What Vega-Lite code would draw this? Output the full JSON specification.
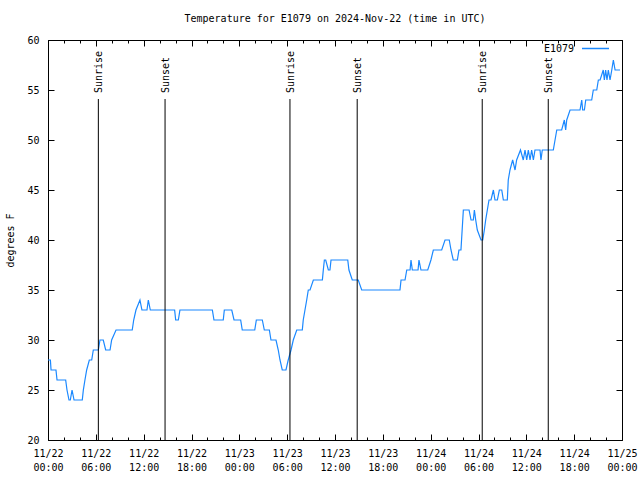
{
  "$schema": "https://vega.github.io/schema/vega-lite/v6.json",
  "width": 574,
  "height": 400,
  "autosize": {"type": "none"},
  "padding": {"left": 48, "top": 40, "right": 18, "bottom": 40},
  "title": {"text": "Temperature for E1079 on 2024-Nov-22 (time in UTC)", "offset": 10},
  "datasets": {
    "temps": [
      {"t": "2024-11-22T00:00Z", "v": 28}, {"t": "2024-11-22T00:18Z", "v": 28}, {"t": "2024-11-22T00:23Z", "v": 27},
      {"t": "2024-11-22T01:00Z", "v": 27}, {"t": "2024-11-22T01:08Z", "v": 26}, {"t": "2024-11-22T02:13Z", "v": 26},
      {"t": "2024-11-22T02:23Z", "v": 25}, {"t": "2024-11-22T02:38Z", "v": 24}, {"t": "2024-11-22T02:48Z", "v": 24},
      {"t": "2024-11-22T03:01Z", "v": 25}, {"t": "2024-11-22T03:16Z", "v": 24}, {"t": "2024-11-22T04:18Z", "v": 24},
      {"t": "2024-11-22T04:26Z", "v": 25}, {"t": "2024-11-22T04:38Z", "v": 26}, {"t": "2024-11-22T04:51Z", "v": 27},
      {"t": "2024-11-22T05:11Z", "v": 28}, {"t": "2024-11-22T05:29Z", "v": 28}, {"t": "2024-11-22T05:41Z", "v": 29},
      {"t": "2024-11-22T06:19Z", "v": 29}, {"t": "2024-11-22T06:31Z", "v": 30}, {"t": "2024-11-22T06:56Z", "v": 30},
      {"t": "2024-11-22T07:14Z", "v": 29}, {"t": "2024-11-22T07:47Z", "v": 29}, {"t": "2024-11-22T07:59Z", "v": 30},
      {"t": "2024-11-22T08:32Z", "v": 31}, {"t": "2024-11-22T10:34Z", "v": 31}, {"t": "2024-11-22T10:45Z", "v": 32},
      {"t": "2024-11-22T11:02Z", "v": 33}, {"t": "2024-11-22T11:32Z", "v": 34}, {"t": "2024-11-22T11:47Z", "v": 33},
      {"t": "2024-11-22T12:25Z", "v": 33}, {"t": "2024-11-22T12:35Z", "v": 34}, {"t": "2024-11-22T12:50Z", "v": 33},
      {"t": "2024-11-22T15:53Z", "v": 33}, {"t": "2024-11-22T16:01Z", "v": 32}, {"t": "2024-11-22T16:21Z", "v": 32},
      {"t": "2024-11-22T16:33Z", "v": 33}, {"t": "2024-11-22T20:37Z", "v": 33}, {"t": "2024-11-22T20:49Z", "v": 32},
      {"t": "2024-11-22T21:59Z", "v": 32}, {"t": "2024-11-22T22:07Z", "v": 33}, {"t": "2024-11-22T23:03Z", "v": 33},
      {"t": "2024-11-22T23:20Z", "v": 32}, {"t": "2024-11-23T00:10Z", "v": 32}, {"t": "2024-11-23T00:22Z", "v": 31},
      {"t": "2024-11-23T01:56Z", "v": 31}, {"t": "2024-11-23T02:08Z", "v": 32}, {"t": "2024-11-23T02:53Z", "v": 32},
      {"t": "2024-11-23T03:08Z", "v": 31}, {"t": "2024-11-23T03:46Z", "v": 31}, {"t": "2024-11-23T03:58Z", "v": 30},
      {"t": "2024-11-23T04:36Z", "v": 30}, {"t": "2024-11-23T04:53Z", "v": 29}, {"t": "2024-11-23T05:06Z", "v": 28},
      {"t": "2024-11-23T05:23Z", "v": 27}, {"t": "2024-11-23T05:51Z", "v": 27}, {"t": "2024-11-23T06:08Z", "v": 28},
      {"t": "2024-11-23T06:29Z", "v": 29}, {"t": "2024-11-23T06:46Z", "v": 30}, {"t": "2024-11-23T07:12Z", "v": 31},
      {"t": "2024-11-23T07:54Z", "v": 31}, {"t": "2024-11-23T08:01Z", "v": 32}, {"t": "2024-11-23T08:14Z", "v": 33},
      {"t": "2024-11-23T08:27Z", "v": 34}, {"t": "2024-11-23T08:39Z", "v": 35}, {"t": "2024-11-23T08:52Z", "v": 35},
      {"t": "2024-11-23T09:17Z", "v": 36}, {"t": "2024-11-23T10:25Z", "v": 36}, {"t": "2024-11-23T10:32Z", "v": 37},
      {"t": "2024-11-23T10:40Z", "v": 38}, {"t": "2024-11-23T10:50Z", "v": 38}, {"t": "2024-11-23T11:10Z", "v": 37},
      {"t": "2024-11-23T11:22Z", "v": 37}, {"t": "2024-11-23T11:30Z", "v": 38}, {"t": "2024-11-23T13:36Z", "v": 38},
      {"t": "2024-11-23T13:45Z", "v": 37}, {"t": "2024-11-23T14:10Z", "v": 36}, {"t": "2024-11-23T14:55Z", "v": 36},
      {"t": "2024-11-23T15:21Z", "v": 35}, {"t": "2024-11-23T20:09Z", "v": 35}, {"t": "2024-11-23T20:17Z", "v": 36},
      {"t": "2024-11-23T20:47Z", "v": 36}, {"t": "2024-11-23T21:00Z", "v": 37}, {"t": "2024-11-23T21:25Z", "v": 37},
      {"t": "2024-11-23T21:32Z", "v": 38}, {"t": "2024-11-23T21:42Z", "v": 37}, {"t": "2024-11-23T22:25Z", "v": 37},
      {"t": "2024-11-23T22:32Z", "v": 38}, {"t": "2024-11-23T22:47Z", "v": 37}, {"t": "2024-11-23T23:38Z", "v": 37},
      {"t": "2024-11-24T00:02Z", "v": 38}, {"t": "2024-11-24T00:20Z", "v": 39}, {"t": "2024-11-24T01:23Z", "v": 39},
      {"t": "2024-11-24T01:48Z", "v": 40}, {"t": "2024-11-24T02:20Z", "v": 40}, {"t": "2024-11-24T02:33Z", "v": 39},
      {"t": "2024-11-24T02:50Z", "v": 38}, {"t": "2024-11-24T03:21Z", "v": 38}, {"t": "2024-11-24T03:33Z", "v": 39},
      {"t": "2024-11-24T03:48Z", "v": 39}, {"t": "2024-11-24T04:06Z", "v": 43}, {"t": "2024-11-24T04:49Z", "v": 43},
      {"t": "2024-11-24T05:04Z", "v": 42}, {"t": "2024-11-24T05:21Z", "v": 42}, {"t": "2024-11-24T05:29Z", "v": 43},
      {"t": "2024-11-24T05:39Z", "v": 42}, {"t": "2024-11-24T05:51Z", "v": 41}, {"t": "2024-11-24T06:19Z", "v": 40},
      {"t": "2024-11-24T06:32Z", "v": 40}, {"t": "2024-11-24T06:44Z", "v": 41}, {"t": "2024-11-24T06:54Z", "v": 42},
      {"t": "2024-11-24T07:19Z", "v": 44}, {"t": "2024-11-24T07:34Z", "v": 44}, {"t": "2024-11-24T07:52Z", "v": 45},
      {"t": "2024-11-24T08:04Z", "v": 44}, {"t": "2024-11-24T08:22Z", "v": 44}, {"t": "2024-11-24T08:37Z", "v": 45},
      {"t": "2024-11-24T08:55Z", "v": 45}, {"t": "2024-11-24T09:07Z", "v": 44}, {"t": "2024-11-24T09:37Z", "v": 44},
      {"t": "2024-11-24T09:44Z", "v": 46}, {"t": "2024-11-24T09:57Z", "v": 47}, {"t": "2024-11-24T10:17Z", "v": 48},
      {"t": "2024-11-24T10:35Z", "v": 47}, {"t": "2024-11-24T10:47Z", "v": 48}, {"t": "2024-11-24T11:16Z", "v": 49},
      {"t": "2024-11-24T11:37Z", "v": 48}, {"t": "2024-11-24T11:50Z", "v": 49}, {"t": "2024-11-24T12:03Z", "v": 48},
      {"t": "2024-11-24T12:15Z", "v": 49}, {"t": "2024-11-24T12:28Z", "v": 48}, {"t": "2024-11-24T12:40Z", "v": 49},
      {"t": "2024-11-24T12:53Z", "v": 48}, {"t": "2024-11-24T13:05Z", "v": 49}, {"t": "2024-11-24T13:43Z", "v": 49},
      {"t": "2024-11-24T13:50Z", "v": 48}, {"t": "2024-11-24T14:00Z", "v": 49}, {"t": "2024-11-24T15:23Z", "v": 49},
      {"t": "2024-11-24T15:36Z", "v": 50}, {"t": "2024-11-24T15:49Z", "v": 51}, {"t": "2024-11-24T16:26Z", "v": 51},
      {"t": "2024-11-24T16:46Z", "v": 52}, {"t": "2024-11-24T16:56Z", "v": 51}, {"t": "2024-11-24T17:04Z", "v": 52},
      {"t": "2024-11-24T17:29Z", "v": 53}, {"t": "2024-11-24T18:44Z", "v": 53}, {"t": "2024-11-24T18:57Z", "v": 54},
      {"t": "2024-11-24T19:04Z", "v": 53}, {"t": "2024-11-24T19:17Z", "v": 53}, {"t": "2024-11-24T19:27Z", "v": 54},
      {"t": "2024-11-24T20:12Z", "v": 54}, {"t": "2024-11-24T20:24Z", "v": 55}, {"t": "2024-11-24T20:50Z", "v": 55},
      {"t": "2024-11-24T21:02Z", "v": 56}, {"t": "2024-11-24T21:15Z", "v": 56}, {"t": "2024-11-24T21:39Z", "v": 57},
      {"t": "2024-11-24T21:47Z", "v": 56}, {"t": "2024-11-24T21:57Z", "v": 57}, {"t": "2024-11-24T22:07Z", "v": 56},
      {"t": "2024-11-24T22:17Z", "v": 57}, {"t": "2024-11-24T22:30Z", "v": 56}, {"t": "2024-11-24T22:43Z", "v": 57},
      {"t": "2024-11-24T22:55Z", "v": 58}, {"t": "2024-11-24T23:08Z", "v": 57}, {"t": "2024-11-24T23:45Z", "v": 57}
    ],
    "events": [
      {"t": "2024-11-22T06:19Z", "label": "Sunrise"},
      {"t": "2024-11-22T14:41Z", "label": "Sunset"},
      {"t": "2024-11-23T06:21Z", "label": "Sunrise"},
      {"t": "2024-11-23T14:47Z", "label": "Sunset"},
      {"t": "2024-11-24T06:28Z", "label": "Sunrise"},
      {"t": "2024-11-24T14:45Z", "label": "Sunset"}
    ]
  },
  "layer": [
    {
      "data": {"name": "temps"},
      "mark": {"type": "line", "strokeWidth": 1.2, "interpolate": "linear"},
      "encoding": {
        "x": {
          "field": "t", "type": "temporal",
          "scale": {"type": "utc", "domain": [1732233600000, 1732492800000]},
          "axis": {
            "orient": "bottom", "title": null,
            "values": [1732233600000, 1732255200000, 1732276800000, 1732298400000, 1732320000000, 1732341600000, 1732363200000, 1732384800000, 1732406400000, 1732428000000, 1732449600000, 1732471200000, 1732492800000],
            "tickSize": -6, "labelPadding": 14, "labelFlush": false, "labelOverlap": false,
            "labelBaseline": "top", "labelLineHeight": 14,
            "labelExpr": "[utcFormat(datum.value, '%m/%d'), utcFormat(datum.value, '%H:%M')]"
          }
        },
        "y": {
          "field": "v", "type": "quantitative",
          "scale": {"domain": [20, 60], "nice": false, "zero": false},
          "axis": {"title": "degrees F", "values": [20, 25, 30, 35, 40, 45, 50, 55, 60], "tickSize": -6, "labelPadding": 15, "titlePadding": 11}
        },
        "color": {
          "datum": "E1079",
          "scale": {"range": ["#1a88ff"]},
          "legend": {
            "title": "E1079", "titleOrient": "left", "titleAnchor": "middle", "titleBaseline": "top",
            "labelExpr": "''", "orient": "none",
            "legendX": 496, "legendY": -6, "symbolType": "stroke", "symbolSize": 729, "symbolStrokeWidth": 1.5,
            "titleFont": "DejaVu Sans Mono", "titleFontSize": 10, "titleFontWeight": "normal", "titleColor": "black",
            "titlePadding": 6
          }
        }
      }
    },
    {
      "data": {"name": "events"},
      "mark": {"type": "rule", "color": "black", "strokeWidth": 1},
      "encoding": {
        "x": {"field": "t", "type": "temporal", "axis": {"orient": "top", "labels": false, "title": null,
          "values": [1732233600000, 1732255200000, 1732276800000, 1732298400000, 1732320000000, 1732341600000, 1732363200000, 1732384800000, 1732406400000, 1732428000000, 1732449600000, 1732471200000, 1732492800000],
          "tickSize": -6}},
        "y": {"datum": 54.1, "type": "quantitative", "axis": {"orient": "right", "labels": false, "title": null, "values": [20, 25, 30, 35, 40, 45, 50, 55, 60], "tickSize": -6}},
        "y2": {"datum": 20}
      }
    },
    {
      "data": {"name": "events"},
      "mark": {"type": "text", "angle": 270, "align": "left", "baseline": "middle", "dx": 0, "dy": 1, "font": "DejaVu Sans Mono", "fontSize": 10, "color": "black"},
      "encoding": {
        "x": {"field": "t", "type": "temporal", "axis": {"orient": "bottom", "labels": false, "title": null,
          "values": [1732233600000, 1732240800000, 1732248000000, 1732255200000, 1732262400000, 1732269600000, 1732276800000, 1732284000000, 1732291200000, 1732298400000, 1732305600000, 1732312800000, 1732320000000, 1732327200000, 1732334400000, 1732341600000, 1732348800000, 1732356000000, 1732363200000, 1732370400000, 1732377600000, 1732384800000, 1732392000000, 1732399200000, 1732406400000, 1732413600000, 1732420800000, 1732428000000, 1732435200000, 1732442400000, 1732449600000, 1732456800000, 1732464000000, 1732471200000, 1732478400000, 1732485600000, 1732492800000],
          "tickSize": -3}},
        "y": {"datum": 54.7, "type": "quantitative", "axis": null},
        "text": {"field": "label"}
      }
    },
    {
      "data": {"name": "events"},
      "mark": {"type": "rule", "opacity": 0},
      "encoding": {
        "x": {"field": "t", "type": "temporal", "axis": {"orient": "top", "labels": false, "title": null,
          "values": [1732233600000, 1732240800000, 1732248000000, 1732255200000, 1732262400000, 1732269600000, 1732276800000, 1732284000000, 1732291200000, 1732298400000, 1732305600000, 1732312800000, 1732320000000, 1732327200000, 1732334400000, 1732341600000, 1732348800000, 1732356000000, 1732363200000, 1732370400000, 1732377600000, 1732384800000, 1732392000000, 1732399200000, 1732406400000, 1732413600000, 1732420800000, 1732428000000, 1732435200000, 1732442400000, 1732449600000, 1732456800000, 1732464000000, 1732471200000, 1732478400000, 1732485600000, 1732492800000],
          "tickSize": -3}}
      }
    }
  ],
  "resolve": {"axis": {"x": "independent", "y": "independent"}},
  "config": {
    "view": {"stroke": "black", "strokeWidth": 1},
    "font": "DejaVu Sans Mono",
    "axis": {
      "labelFont": "DejaVu Sans Mono", "labelFontSize": 10, "labelColor": "black",
      "tickColor": "black", "tickWidth": 1, "grid": false, "domain": false,
      "titleFont": "DejaVu Sans Mono", "titleFontSize": 10, "titleFontWeight": "normal", "titleColor": "black"
    },
    "title": {"font": "DejaVu Sans Mono", "fontSize": 10, "fontWeight": "normal", "color": "black", "anchor": "middle"}
  }
}
